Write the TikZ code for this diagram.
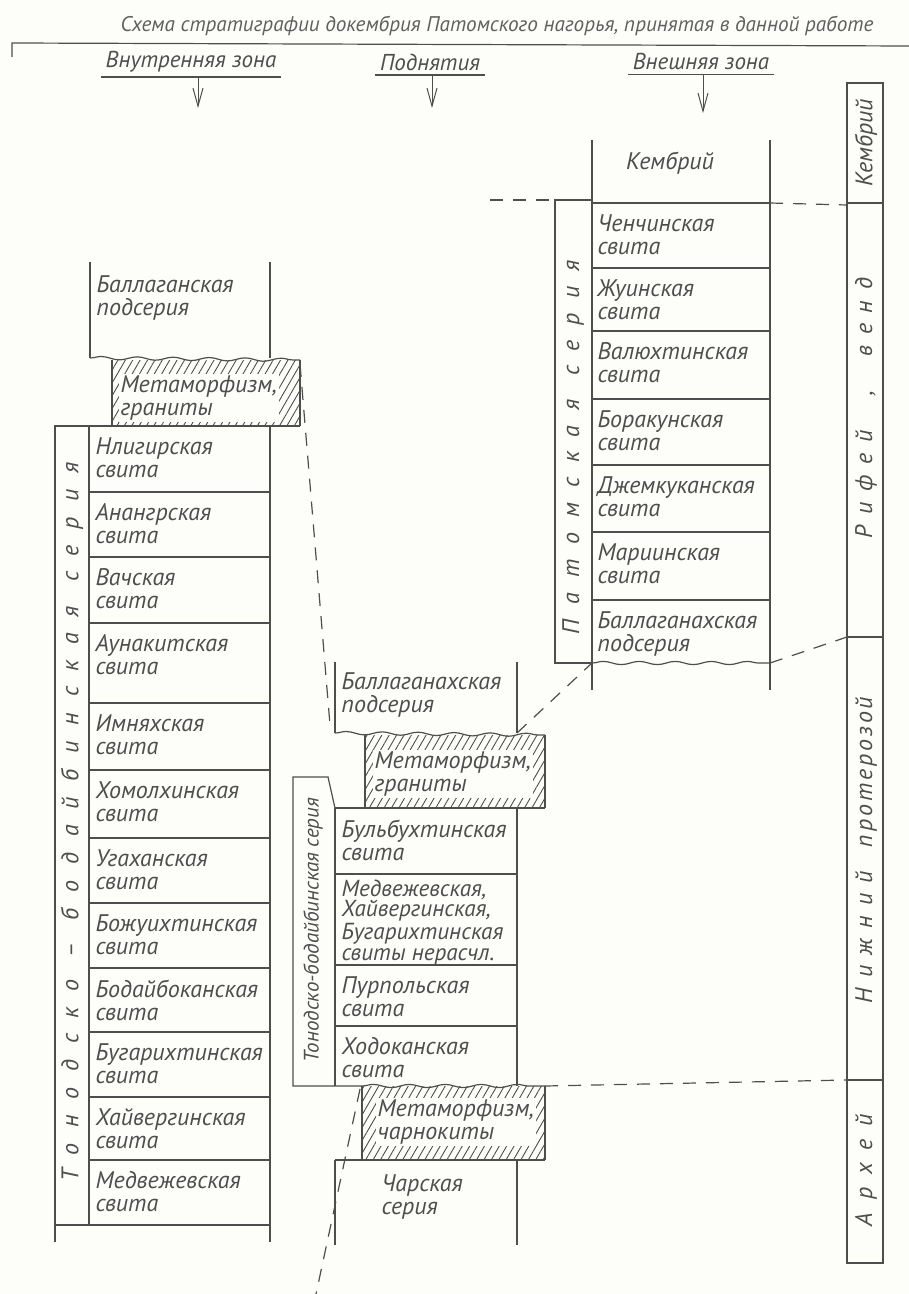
\documentclass[tikz,border=0pt]{standalone}
\usepackage{fontspec}
\setmainfont{PT Sans}
\usetikzlibrary{arrows.meta,patterns.meta,decorations.pathmorphing}

\definecolor{ink}{RGB}{78,78,78}
\definecolor{paper}{RGB}{253,253,250}
\newcommand{\sparse}[2][55]{{\addfontfeature{LetterSpace=#1}#2}}

\begin{document}
\begin{tikzpicture}[x=0.5pt,y=-0.5pt,line width=0.6pt,draw=ink,text=ink,
  font=\itshape\fontsize{12}{11.5}\selectfont,
  txt/.style={anchor=north west,inner sep=0pt,align=left},
  vtxt/.style={rotate=90,inner sep=0pt},
  zone/.style={font=\itshape\fontsize{11.5}{12}\selectfont,inner sep=2pt},
  wavy/.style={decorate,decoration={snake,amplitude=0.8pt,segment length=18pt}},
  corr/.style={dash pattern=on 6.5pt off 5pt},
  hatch/.style={pattern={Lines[angle=60,distance=3.2pt,line width=0.45pt]},pattern color=ink},
  down/.style={-{Straight Barb[length=9pt,width=5pt]},line width=0.5pt}]
\fill[paper] (0,0) rectangle (909,1294);
\useasboundingbox (0,0) rectangle (909,1294);

% title and zones
\node[font=\itshape\fontsize{10.6}{12}\selectfont,text=ink!90] (title) at (497,26)
  {Схема стратиграфии докембрия Патомского нагорья, принятая в данной работе};
\draw (12,57) -- (12,43) -- (909,46);
\node[zone] (zin) at (191,62) {Внутренняя зона};
\node[zone] (zup) at (430,62) {Поднятия};
\node[zone] (zout) at (701,62) {Внешняя зона};
\coordinate (ain) at (198,108);
\coordinate (aup) at (432,108);
\coordinate (aout) at (703,113);
\foreach \z/\a in {zin/ain,zup/aup,zout/aout}{
  \draw (\z.south west) -- (\z.south east);
  \draw[down] (\z.south -| \a) -- (\a);
}

% time scale
\draw (847,83) rectangle (883,1263);
\foreach \y in {203,637,1080} \draw (847,\y) -- (883,\y);
\node[vtxt] (tkem) at (866,143) {Кембрий};
\node[vtxt] (trif) at (866,408) {\sparse[45]{Рифей ~, ~венд}};
\node[vtxt] (tnp) at (866,850) {\sparse[42]{Нижний}\quad\sparse[12]{протерозой}};
\node[vtxt] (tarh) at (866,1170) {\sparse{Архей}};

% outer zone
\draw (592,140) -- (592,203) (770,140) -- (770,203);
\node (okem) at (670,163) {Кембрий};
\draw (555,200) rectangle (592,663);
\node[vtxt] (opat) at (573,447) {\sparse[62]{Патомская\quad серия}};
\foreach \a/\b/\n in {203/268/Ченчинская,268/331/Жуинская,331/399/Валюхтинская,
    399/465/Боракунская,465/532/Джемкуканская,532/600/Мариинская}{
  \draw (592,\a) rectangle (770,\b);
  \node[txt] (o\a) at (597,\a+11) {\n\\свита};
}
\draw (592,600) -- (592,690) (770,600) -- (770,690);
\draw[wavy] (592,663) -- (770,663);
\node[txt] (obal) at (597,611) {Баллаганахская\\подсерия};

% inner zone
\draw (90,262) -- (90,358) (270,262) -- (270,358);
\node[txt] (ibal) at (96,275) {Баллаганская\\подсерия};
\fill[hatch] (112,360) rectangle (300,426);
\draw[wavy] (90,358) -- (300,360);
\draw (112,360) -- (112,426) (300,360) -- (300,426) (55,426) -- (300,426);
\node[txt,fill=paper,inner sep=1pt] (imet) at (118,373) {Метаморфизм,\\граниты};
\draw (55,426) rectangle (89,1225);
\node[vtxt] (iser) at (72,822) {\sparse[66]{Тонодско -- бодайбинская\quad серия}};
\foreach \a/\b/\n in {426/492/Нлигирская,492/557/Анангрская,557/623/Вачская,
    623/703/Аунакитская,703/770/Имняхская,770/838/Хомолхинская,838/903/Угаханская,
    903/968/Божуихтинская,968/1032/Бодайбоканская,1032/1097/Бугарихтинская,
    1097/1160/Хайвергинская,1160/1225/Медвежевская}{
  \draw (89,\a) rectangle (270,\b);
  \node[txt] (i\a) at (95,\a+11) {\n\\свита};
}
\draw (55,1225) -- (55,1242) (270,1225) -- (270,1242);

% uplift zone
\draw (335,662) -- (335,733) (517,662) -- (517,733);
\node[txt] (ubal) at (341,672) {Баллаганахская\\подсерия};
\fill[hatch] (365,735) rectangle (545,808);
\draw[wavy] (335,733) -- (545,735);
\draw (365,735) -- (365,808) (545,735) -- (545,808) (335,808) -- (545,808);
\node[txt,fill=paper,inner sep=1pt] (umet) at (372,749) {Метаморфизм,\\граниты};
\draw (335,808) -- (328,777) -- (293,777) -- (293,1086) -- (362,1086);
\node[vtxt,font=\itshape\fontsize{10.5}{11}\selectfont] (user) at (313,930)
  {Тонодско-бодайбинская серия};
\draw (335,808) -- (335,1086) (517,808) -- (517,1086);
\foreach \a/\n in {808/Бульбухтинская\\свита,965/Пурпольская\\свита,1026/Ходоканская\\свита}{
  \draw (335,\a) -- (517,\a);
  \node[txt] (u\a) at (341,\a+11) {\n};
}
\draw (335,874) -- (517,874);
\node[txt,font=\itshape\fontsize{11.6}{10.3}\selectfont] (u874) at (341,879)
  {Медвежевская,\\Хайвергинская,\\Бугарихтинская\\свиты нерасчл.};
\fill[hatch] (362,1086) rectangle (545,1160);
\draw[wavy] (362,1086) -- (545,1086);
\draw (362,1086) -- (362,1160) (545,1086) -- (545,1160) (335,1160) -- (545,1160);
\node[txt,fill=paper,inner sep=1pt] (uchm) at (375,1097) {Метаморфизм,\\чарнокиты};
\draw (335,1160) -- (335,1245) (517,1160) -- (517,1245);
\node[txt] (uchr) at (381,1174) {Чарская\\серия};

% correlation lines
\coordinate (c1) at (300,364);  \coordinate (c2) at (330,725);
\coordinate (c3) at (517,733);  \coordinate (c4) at (592,663);
\coordinate (c5) at (770,663);  \coordinate (c6) at (847,637);
\coordinate (c7) at (490,200);  \coordinate (c8) at (555,200);
\coordinate (c9) at (770,203);  \coordinate (c10) at (847,205);
\coordinate (c11) at (545,1086); \coordinate (c12) at (847,1080);
\coordinate (c13) at (360,1089); \coordinate (c14) at (316,1294);
\foreach \p/\q in {c1/c2,c3/c4,c5/c6,c7/c8,c9/c10,c11/c12,c13/c14}
  \draw[corr] (\p) -- (\q);
\end{tikzpicture}
\end{document}
